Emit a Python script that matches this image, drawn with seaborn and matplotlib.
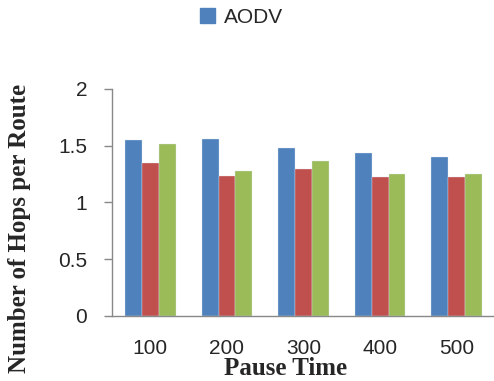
import matplotlib
matplotlib.use('Agg')
import matplotlib.pyplot as plt
import pandas as pd
import seaborn as sns
from matplotlib.patches import Patch

pause_time = ['100', '200', '300', '400', '500']
series_names = ['AODV', 'DSR', 'DSDV']
aodv = [1.55, 1.56, 1.48, 1.43, 1.40]
dsr = [1.35, 1.23, 1.29, 1.22, 1.22]
dsdv = [1.51, 1.28, 1.36, 1.25, 1.25]
colors = ['#4F81BD', '#C0504D', '#9BBB59']

df = pd.DataFrame({'Pause Time': pause_time * 3,
                   'Hops': aodv + dsr + dsdv,
                   'Protocol': [s for s in series_names for _ in pause_time]})

sns.set_style('white')
plt.rcParams['font.family'] = ['Liberation Sans', 'DejaVu Sans']

fig = plt.figure(figsize=(4.94, 3.81), dpi=100)
ax = fig.add_axes([0.227, 0.171, 0.775, 0.596])
sns.barplot(data=df, x='Pause Time', y='Hops', hue='Protocol', palette=colors, saturation=1,
            width=0.66, edgecolor='#dde6f0', linewidth=0.25, ax=ax, legend=False)

ax.set_ylim(0, 2)
ax.set_xlim(-0.5, 4.5)
ax.set_yticks([0, 0.5, 1, 1.5, 2])
ax.set_yticklabels(['0', '0.5', '1', '1.5', '2'])
ax.set_xticks(range(5))
ax.set_xticklabels(pause_time)
ax.set_xticks([-0.5, 0.5, 1.5, 2.5, 3.5], minor=True)
ax.tick_params(axis='x', which='major', length=0, pad=17, labelsize=15)
ax.tick_params(axis='x', which='minor', length=5, color='#888888', width=1)
ax.tick_params(axis='y', length=6, color='#888888', width=1, labelsize=15, pad=12, left=True)
for s in ['top', 'right']:
    ax.spines[s].set_visible(False)
for s in ['left', 'bottom']:
    ax.spines[s].set_color('#888888')
    ax.spines[s].set_linewidth(1)

ax.set_xlabel('')
ax.set_ylabel('')
fig.text(0.579, 0.032, 'Pause Time', family='Liberation Serif', fontweight='bold',
         fontsize=18, ha='center', va='center')
fig.text(0.04, 0.40, 'Number of Hops per Route', family='Liberation Serif', fontweight='bold',
         fontsize=18, ha='center', va='center', rotation=90)

fig.legend(handles=[Patch(color=colors[0], label=series_names[0])], loc='center',
           bbox_to_anchor=(0.488, 0.955), frameon=False, fontsize=15,
           handlelength=0.75, handleheight=0.75, handletextpad=0.4)

fig.savefig('out.png', dpi=100)
